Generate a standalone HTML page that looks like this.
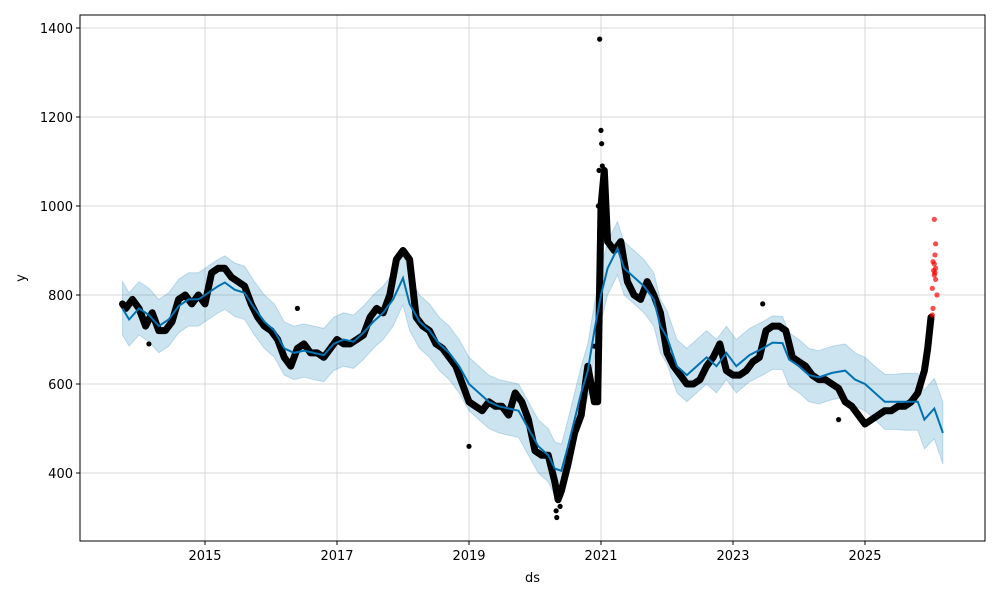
<!DOCTYPE html>
<html><head><meta charset="utf-8"><style>
body{margin:0;background:#fff;font-family:"Liberation Sans","DejaVu Sans",sans-serif}
svg text{font-family:"DejaVu Sans","Liberation Sans",sans-serif;font-size:13px;fill:#000}
</style></head><body>
<svg id="chart" width="1000" height="600" xmlns="http://www.w3.org/2000/svg"></svg>
<script>
const yhatYears=[2013.75,2013.85,2014.0,2014.15,2014.3,2014.45,2014.6,2014.75,2014.9,2015.05,2015.2,2015.3,2015.45,2015.6,2015.75,2015.9,2016.05,2016.2,2016.35,2016.5,2016.65,2016.8,2016.95,2017.1,2017.25,2017.4,2017.55,2017.7,2017.85,2018.0,2018.1,2018.25,2018.4,2018.55,2018.7,2018.85,2019.0,2019.15,2019.3,2019.45,2019.6,2019.75,2019.9,2020.05,2020.2,2020.3,2020.4,2020.5,2020.6,2020.7,2020.8,2020.9,2021.0,2021.1,2021.25,2021.35,2021.5,2021.65,2021.8,2021.9,2022.0,2022.15,2022.3,2022.45,2022.6,2022.75,2022.9,2023.05,2023.25,2023.45,2023.6,2023.75,2023.85,2024.0,2024.15,2024.3,2024.5,2024.7,2024.85,2025.0,2025.15,2025.3,2025.45,2025.6,2025.8,2025.9,2026.05,2026.18];
const yhatValues=[770,745,770,755,730,745,775,790,790,805,820,828,812,805,770,740,720,680,670,675,670,665,690,700,695,715,740,760,790,838,780,740,720,690,670,640,600,580,560,550,545,540,500,460,440,410,405,460,520,580,630,720,800,860,905,860,840,820,790,730,705,640,620,640,660,640,670,640,665,680,693,692,655,640,620,615,625,630,610,600,580,560,560,560,560,520,545,490];
const bandHalf=[60,60,60,60,60,60,60,60,60,60,60,60,60,60,60,60,60,60,60,60,60,60,60,60,60,60,60,60,60,60,60,60,60,60,60,60,60,60,60,60,60,60,60,60,60,60,60,60,60,60,60,60,60,60,60,60,60,60,60,60,60,60,60,60,60,60,60,60,60,60,60,60,60,60,60,60,60,60,60,60,60,62,62,64,64,66,68,70];
const obsYears=[2013.75,2013.8,2013.9,2014.0,2014.1,2014.2,2014.3,2014.4,2014.5,2014.6,2014.7,2014.8,2014.9,2015.0,2015.1,2015.2,2015.3,2015.4,2015.5,2015.6,2015.7,2015.8,2015.9,2016.0,2016.1,2016.2,2016.3,2016.4,2016.5,2016.6,2016.7,2016.8,2016.9,2017.0,2017.1,2017.2,2017.3,2017.4,2017.5,2017.6,2017.7,2017.8,2017.9,2018.0,2018.1,2018.2,2018.3,2018.4,2018.5,2018.6,2018.7,2018.8,2018.9,2019.0,2019.1,2019.2,2019.3,2019.4,2019.5,2019.6,2019.7,2019.8,2019.9,2020.0,2020.1,2020.2,2020.3,2020.35,2020.4,2020.5,2020.6,2020.7,2020.8,2020.85,2020.9,2020.95,2021.0,2021.05,2021.1,2021.2,2021.3,2021.4,2021.5,2021.6,2021.7,2021.8,2021.9,2022.0,2022.1,2022.2,2022.3,2022.4,2022.5,2022.6,2022.7,2022.8,2022.9,2023.0,2023.1,2023.2,2023.3,2023.4,2023.5,2023.6,2023.7,2023.8,2023.9,2024.0,2024.1,2024.2,2024.3,2024.4,2024.5,2024.6,2024.7,2024.8,2024.9,2025.0,2025.1,2025.2,2025.3,2025.4,2025.5,2025.6,2025.7,2025.8,2025.9,2025.95,2026.0];
const obsValues=[780,770,790,770,730,760,720,720,740,790,800,780,800,780,850,860,860,840,830,820,780,750,730,720,700,660,640,680,690,670,670,660,680,700,690,690,700,710,750,770,760,800,880,900,880,750,730,720,690,680,660,640,600,560,550,540,560,550,550,530,580,560,520,450,440,440,380,340,360,420,490,530,640,600,560,560,1000,1080,920,900,920,830,800,790,830,800,760,670,640,620,600,600,610,640,660,690,630,620,620,630,650,660,720,730,730,720,660,650,640,620,610,610,600,590,560,550,530,510,520,530,540,540,550,550,560,580,630,680,750];
const extraYears=[2020.98,2021.0,2021.01,2021.02,2020.97,2020.96,2020.9,2014.15,2016.4,2019.0,2024.6,2020.33,2020.32,2020.38,2023.45];
const extraValues=[1375,1170,1140,1090,1080,1000,685,690,770,460,520,300,315,325,780];
const redValues=[970,915,890,875,870,860,855,850,845,835,815,800,770,755];
const redYears=[2026.05,2026.07,2026.06,2026.03,2026.05,2026.07,2026.04,2026.06,2026.05,2026.07,2026.02,2026.09,2026.03,2026.02];
const xTicks=[2015,2017,2019,2021,2023,2025];
const yTicks=[400,600,800,1000,1200,1400];

const L=80,R=985,T=15,B=541;
const X=y=>205+(y-2015)*66;
const Y=v=>651-v*0.445;
const svg=document.getElementById('chart');
const NS='http://www.w3.org/2000/svg';
function mk(t,a,p){const e=document.createElementNS(NS,t);for(const k in a)e.setAttribute(k,a[k]);(p||svg).appendChild(e);return e;}

xTicks.forEach(t=>{const g=mk('line',{x1:X(t),x2:X(t),y1:T,y2:B,stroke:'#d9d9d9','stroke-width':1});


const tk=mk('line',{x1:X(t),x2:X(t),y1:B,y2:B+4,stroke:'#000'});


const tx=mk('text',{x:X(t),y:B+19,'text-anchor':'middle'});tx.textContent=t;

});
yTicks.forEach(t=>{const g=mk('line',{x1:L,x2:R,y1:Y(t),y2:Y(t),stroke:'#d9d9d9','stroke-width':1});


const tk=mk('line',{x1:L-4,x2:L,y1:Y(t),y2:Y(t),stroke:'#000'});


const tx=mk('text',{x:L-7,y:Y(t)+5,'text-anchor':'end'});tx.textContent=t;

});

let up=yhatYears.map((y,i)=>X(y).toFixed(1)+','+Y(yhatValues[i]+bandHalf[i]).toFixed(1));
let lo=yhatYears.map((y,i)=>X(y).toFixed(1)+','+Y(yhatValues[i]-bandHalf[i]).toFixed(1)).reverse();
const band=mk('polygon',{points:up.concat(lo).join(' '),fill:'#0072B2','fill-opacity':0.2,stroke:'#0072B2','stroke-opacity':0.2,'stroke-width':1});



const obsPts=obsYears.map((y,i)=>X(y).toFixed(1)+','+Y(obsValues[i]).toFixed(1)).join(' ');
const obsLine=mk('polyline',{points:obsPts,fill:'none',stroke:'#000','stroke-width':7,'stroke-linejoin':'round','stroke-linecap':'round'});


obsYears.forEach((y,i)=>{const c=mk('circle',{cx:X(y),cy:Y(obsValues[i]),r:3,fill:'#000'});

});
extraYears.forEach((y,i)=>{const c=mk('circle',{cx:X(y),cy:Y(extraValues[i]),r:2.6,fill:'#000'});

});

const yl=mk('polyline',{points:yhatYears.map((y,i)=>X(y).toFixed(1)+','+Y(yhatValues[i]).toFixed(1)).join(' '),fill:'none',stroke:'#0072B2','stroke-width':2});



redYears.forEach((y,i)=>{const c=mk('circle',{cx:X(y),cy:Y(redValues[i]),r:2.6,fill:'#ff0000','fill-opacity':0.7});

});

const fr=mk('rect',{x:L,y:T,width:R-L,height:B-T,fill:'none',stroke:'#000','stroke-width':1});


const xt=mk('text',{x:(L+R)/2,y:582,'text-anchor':'middle'});xt.textContent='ds';


const yt=mk('text',{x:25,y:278,'text-anchor':'middle',transform:'rotate(-90 25 278)'});yt.textContent='y';


</script>
</body></html>
